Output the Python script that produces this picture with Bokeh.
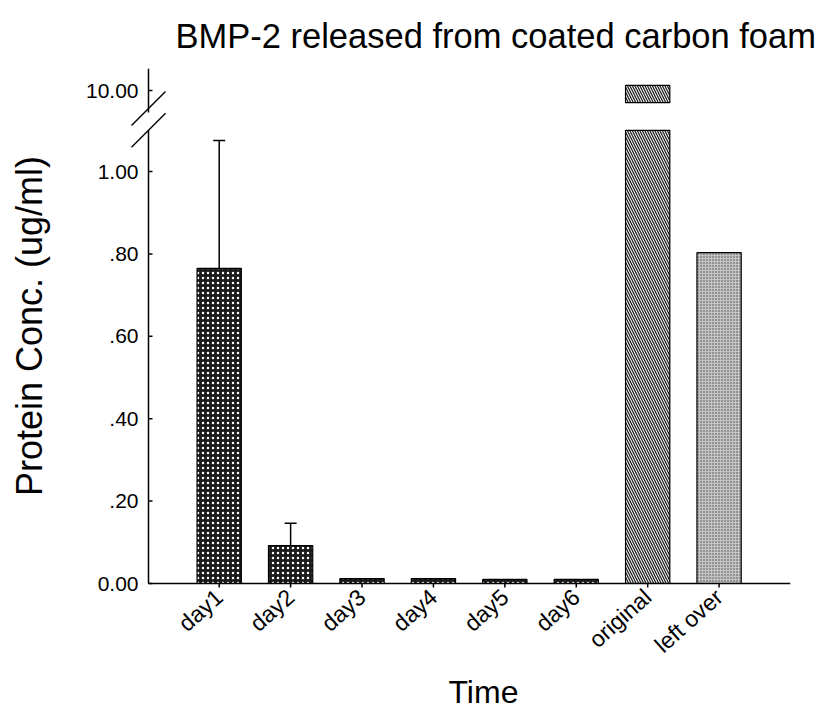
import numpy as np
from bokeh.plotting import figure
from bokeh.models import ColumnDataSource, Range1d, FixedTicker, Whisker, TeeHead, Title
from bokeh.core.properties import value
from bokeh.embed import file_html
from bokeh.resources import INLINE

# ---------------- data ----------------
categories = ["day1", "day2", "day3", "day4", "day5", "day6", "original", "left over"]
conc = [0.765, 0.092, 0.012, 0.012, 0.010, 0.010, 10.23, 0.803]
err_upper = [0.31, 0.054, 0.0, 0.0, 0.0, 0.0, 0.0, 0.0]
groups = ["release"] * 6 + ["original", "left over"]
y_tick_values = [0.0, 0.2, 0.4, 0.6, 0.8, 1.0, 10.0]
y_tick_labels = ["0.00", ".20", ".40", ".60", ".80", "1.00", "10.00"]

# ---------------- broken axis mapping ----------------
LOW_TOP = 1.10                 # top of the lower axis segment (data)
UP_V0, UP_V1 = 9.0, 11.0       # data span of the upper segment
UP_D0, UP_D1 = 1.143, 1.25     # display span of the upper segment
UP_BAR_START = 9.45            # where the upper bar piece starts


def to_disp(v):
    v = np.asarray(v, dtype=float)
    return np.where(v <= LOW_TOP, v,
                    UP_D0 + (v - UP_V0) * (UP_D1 - UP_D0) / (UP_V1 - UP_V0))


x = np.arange(len(categories), dtype=float)
conc_a = np.array(conc)
err_a = np.array(err_upper)

# layout (pixels): plot area spans 0..790 horizontally, y axis at 148 px
FRAME_L, AXIS_PX, FRAME_R = 0, 148, 790
PPY = 412.0                    # pixels per display unit (y)
YMIN = -10 / PPY               # small room below the zero line
FRAME_H = int(round((UP_D1 - YMIN) * PPY))
X0, X1 = -0.99, 8.0
PPU = (FRAME_R - AXIS_PX) / (X1 - X0)
XSTART = X0 - (AXIS_PX - FRAME_L) / PPU

p = figure(frame_width=FRAME_R - FRAME_L, frame_height=FRAME_H,
           output_backend="svg", toolbar_location=None, y_axis_location=None,
           x_range=Range1d(XSTART, X1), y_range=Range1d(YMIN, UP_D1),
           min_border_left=FRAME_L, min_border_right=27, min_border_top=68,
           min_border_bottom=711 - 68 - FRAME_H)
p.background_fill_color = "white"
p.border_fill_color = "white"
p.outline_line_color = None
p.grid.grid_line_color = None

FONT = "Liberation Sans"
p.title.text = "BMP-2 released from coated carbon foam"
p.title.text_font = FONT
p.title.text_font_size = "34.5px"
p.title.text_font_style = "normal"
p.title.text_color = "black"
p.title.align = "left"
p.title.offset = 175
p.title.standoff = 28

BW = 0.62
styles = {
    "release": dict(fill_color="#1a1a1a", hatch_pattern="dot", hatch_color="white",
                    hatch_scale=5, hatch_weight=1.0),
    "original": dict(fill_color="white", hatch_pattern="left_diagonal_line",
                     hatch_color="#222222", hatch_scale=5, hatch_weight=1.3),
    "left over": dict(fill_color="#c4c4c4", hatch_pattern="dot", hatch_color="#444444",
                      hatch_scale=3, hatch_weight=1.0),
}

for g, st in styles.items():
    m = np.array([gg == g for gg in groups])
    lower_top = to_disp(np.minimum(conc_a[m], LOW_TOP))
    src = ColumnDataSource(dict(x=x[m], top=lower_top, bottom=np.zeros(m.sum())))
    p.vbar(x="x", width=BW, top="top", bottom="bottom", source=src,
           line_color="black", line_width=1.2, **st)
    big = conc_a[m] > LOW_TOP
    if big.any():
        src2 = ColumnDataSource(dict(x=x[m][big], top=to_disp(conc_a[m][big]),
                                     bottom=to_disp(np.full(big.sum(), UP_BAR_START))))
        p.vbar(x="x", width=BW, top="top", bottom="bottom", source=src2,
               line_color="black", line_width=1.2, **st)

# error bars (upper only)
em = err_a > 0
esrc = ColumnDataSource(dict(base=x[em], lower=to_disp(conc_a[em]),
                             upper=to_disp(conc_a[em] + err_a[em])))
p.add_layout(Whisker(source=esrc, base="base", lower="lower", upper="upper",
                     line_color="black", line_width=1.5, lower_head=None,
                     upper_head=TeeHead(size=12, line_color="black", line_width=1.5)))

# ---------------- broken y axis (drawn in the plot area) ----------------
ticks_disp = to_disp(y_tick_values)
p.segment(x0=[X0, X0], y0=[0, UP_D0], x1=[X0, X0], y1=[LOW_TOP, UP_D1],
          line_color="black", line_width=1.5)
p.segment(x0=np.full(len(ticks_disp), X0), y0=ticks_disp,
          x1=np.full(len(ticks_disp), X0 + 4 / PPU), y1=ticks_disp,
          line_color="black", line_width=1.5)
p.text(x=np.full(len(ticks_disp), X0), y=ticks_disp, text=y_tick_labels,
       x_offset=-10, text_align="right", text_baseline="middle",
       text_font=value(FONT), text_font_size="21px", text_color="black")
p.text(x=[X0], y=[UP_D1 / 2], text=["Protein Conc. (ug/ml)"], angle=np.pi / 2,
       x_offset=-119, text_align="center", text_baseline="middle",
       text_font=value(FONT), text_font_size="36px", text_color="black")
DX, DY = 17 / PPU, 17 / PPY
brk = np.array([LOW_TOP, UP_D0 + 0.01])
p.segment(x0=np.full(2, X0 - DX), y0=brk - DY, x1=np.full(2, X0 + DX), y1=brk + DY,
          line_color="black", line_width=1.5)

# ---------------- x axis: line and ticks at zero, labels from the axis ----------------
p.segment(x0=[X0], y0=[0], x1=[X1], y1=[0], line_color="black", line_width=1.5)
p.segment(x0=x, y0=np.zeros(len(x)), x1=x, y1=np.full(len(x), -4 / PPY),
          line_color="black", line_width=1.5)

xa = p.xaxis[0]
xa.ticker = FixedTicker(ticks=[float(v) for v in x])
xa.major_label_overrides = {float(v): c for v, c in zip(x, categories)}
xa.axis_line_color = None
xa.major_tick_line_color = None
xa.minor_tick_line_color = None
xa.major_tick_in = 0
xa.major_tick_out = 0
xa.major_label_text_font = FONT
xa.major_label_text_color = "black"
xa.major_label_text_font_size = "23px"
xa.major_label_orientation = 0.73
xa.major_label_standoff = 0

xlab = Title(text="Time", align="left", offset=448, text_font=FONT,
             text_font_size="32px", text_font_style="normal", text_color="black",
             standoff=2)
p.add_layout(xlab, "below")

open("out.html", "w").write(file_html(p, INLINE))
